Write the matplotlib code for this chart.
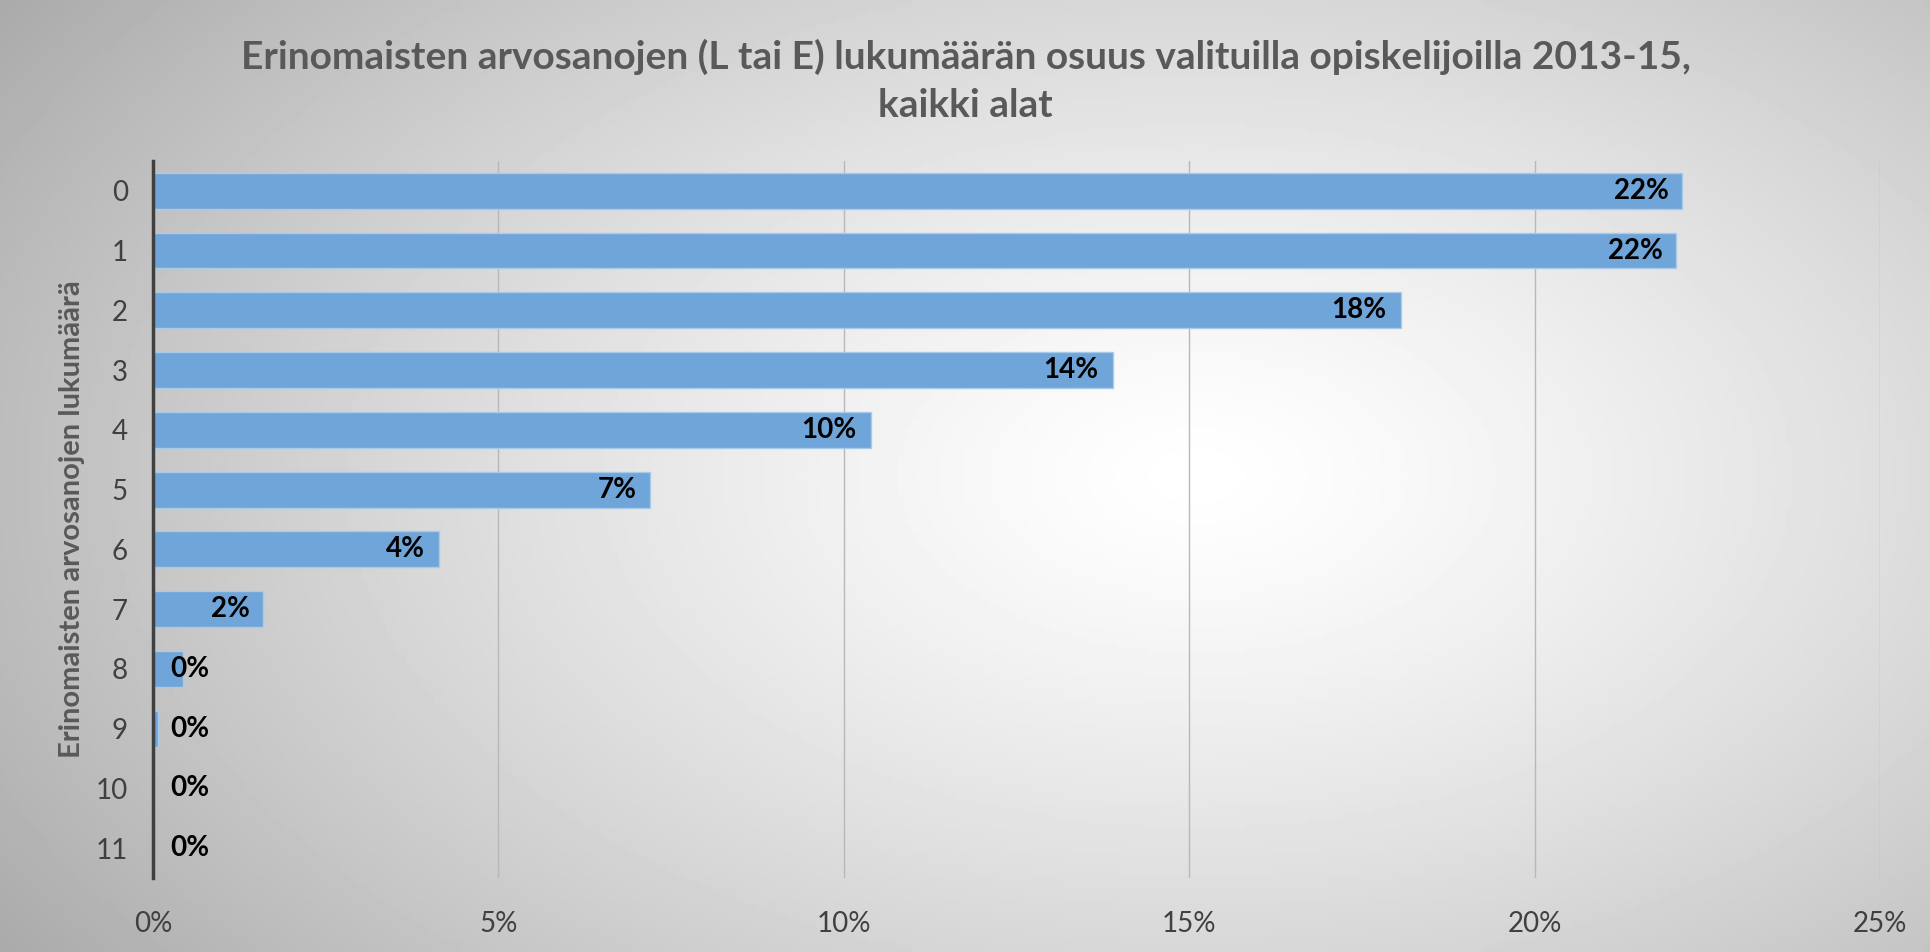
import matplotlib.pyplot as plt
import numpy as np
from matplotlib.ticker import PercentFormatter

# data (share of students, %)
categories = ['0', '1', '2', '3', '4', '5', '6', '7', '8', '9', '10', '11']
shares = [22.14, 22.05, 18.06, 13.89, 10.39, 7.20, 4.14, 1.60, 0.43, 0.07, 0.02, 0.0]
xticks = [0, 5, 10, 15, 20, 25]

title_lines = ['Erinomaisten arvosanojen (L tai E) lukumäärän osuus valituilla opiskelijoilla 2013-15,',
               'kaikki alat']
ylabel = 'Erinomaisten arvosanojen lukumäärä'

plt.rcParams['font.family'] = ['Lato', 'DejaVu Sans']

fig = plt.figure(figsize=(19.31, 9.52), dpi=100)

# radial grey-to-white background like the Excel chart area
bg = fig.add_axes([0, 0, 1, 1], zorder=-10)
gx, gy = np.meshgrid(np.linspace(0, 1, 400), np.linspace(0, 1, 200))
r = np.sqrt(((gx - 0.62) / 0.60) ** 2 + ((gy - 0.50) / 0.72) ** 2)
shade = 1.0 - 0.25 * np.clip(r, 0, 1.25) ** 1.3
bg.imshow(shade, cmap='gray', vmin=0, vmax=1, aspect='auto', extent=[0, 1, 1, 0])
bg.axis('off')

ax = fig.add_axes([0.0792, 0.0777, 0.8944, 0.7533])
ax.patch.set_alpha(0)

y = np.arange(len(categories))
ax.barh(y, shares, height=0.6, color='#6fa5d8', edgecolor='#a9cbea', linewidth=1, zorder=3)

# data labels, inside the bar end (pushed out for tiny bars)
for yi, v in zip(y, shares):
    ax.text(max(v - 0.2, 0.82), yi, f'{v:.0f}%', ha='right', va='center',
            fontsize=20, fontweight='bold', color='black', zorder=4)

ax.set_xlim(0, 25)
ax.set_ylim(len(categories) - 0.5, -0.5)
ax.set_xticks(xticks)
ax.xaxis.set_major_formatter(PercentFormatter(decimals=0))
ax.set_yticks(y)
ax.set_yticklabels(categories)
ax.tick_params(axis='both', length=0, labelsize=20, labelcolor='#404040')
ax.tick_params(axis='x', pad=24)
ax.tick_params(axis='y', pad=18)
ax.grid(axis='x', color='#b8b8b8', linewidth=1, zorder=0)

for s in ['top', 'right', 'bottom']:
    ax.spines[s].set_visible(False)
ax.spines['left'].set_color('#404040')
ax.spines['left'].set_linewidth(2.5)
ax.spines['left'].set_zorder(5)

ax.set_ylabel(ylabel, fontsize=21, fontweight='bold', color='#595959', labelpad=8)

fig.text(0.5, 0.940, title_lines[0], ha='center', va='center', fontsize=28,
         fontweight='bold', color='#595959')
fig.text(0.5, 0.889, title_lines[1], ha='center', va='center', fontsize=28,
         fontweight='bold', color='#595959')

plt.savefig('out.png', dpi=100)
